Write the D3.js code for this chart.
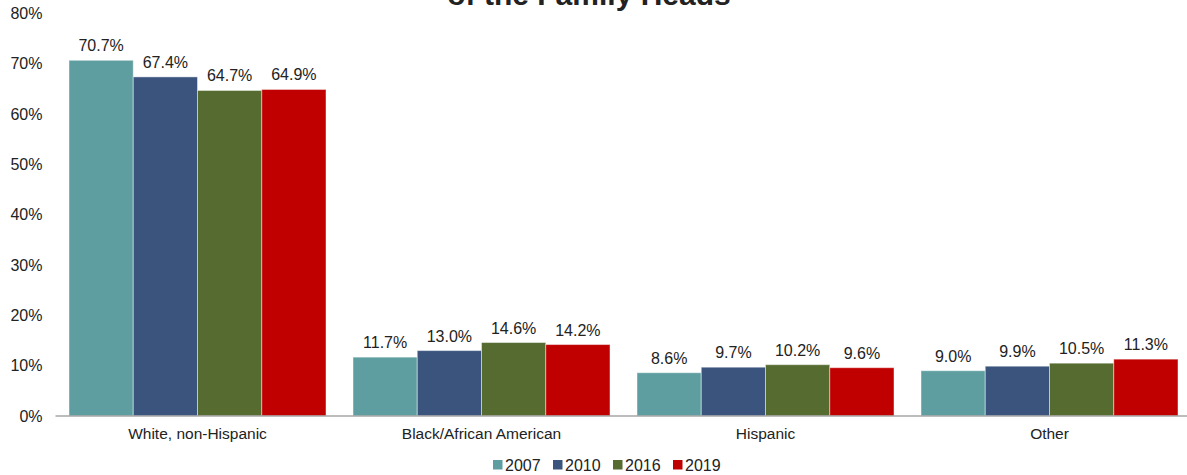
<!DOCTYPE html>
<html>
<head>
<meta charset="utf-8">
<script src="https://cdn.jsdelivr.net/npm/d3@7"></script>
<style>
  html, body { margin: 0; padding: 0; background: #fff; }
  svg { display: block; font-family: Arial, "Liberation Sans", sans-serif; }
</style>
</head>
<body>
<svg id="chart" width="1187" height="475"></svg>
<script>
// Share of family heads by race or ethnicity, survey years 2007–2019
const categories = ["White, non-Hispanic", "Black/African American", "Hispanic", "Other"];
const years = ["2007", "2010", "2016", "2019"];
const values2007 = [70.7, 11.7, 8.6, 9.0];
const values2010 = [67.4, 13.0, 9.7, 9.9];
const values2016 = [64.7, 14.6, 10.2, 10.5];
const values2019 = [64.9, 14.2, 9.6, 11.3];
const yTicks = [0, 10, 20, 30, 40, 50, 60, 70, 80];
const colors = ["#5f9ea0", "#3a547e", "#556b2f", "#c00000"];

const seriesValues = [values2007, values2010, values2016, values2019];
const rows = categories.map((c, i) => ({
  category: c,
  bars: years.map((yr, j) => ({ year: yr, value: seriesValues[j][i] }))
}));

const svg = d3.select("#chart");
const plotLeft = 55.5, plotRight = 1191.5, plotTop = 13.5, plotBottom = 416;
const FONT = "Arial, 'Liberation Sans', sans-serif";

const x0 = d3.scaleBand().domain(categories).range([plotLeft, plotRight])
  .paddingInner(27 / 284).paddingOuter(27 / 568);
const x1 = d3.scaleBand().domain(years).range([0, x0.bandwidth()]);
const y = d3.scaleLinear().domain([0, 80]).range([plotBottom, plotTop]);
const color = d3.scaleOrdinal().domain(years).range(colors);

// Title (second line sits at the top edge)
svg.append("text")
  .attr("x", 589).attr("y", 5)
  .attr("text-anchor", "middle")
  .attr("font-size", 30).attr("font-weight", "bold").attr("fill", "#222")
  .text("of the Family Heads");

// Y axis labels
const yAxis = d3.axisLeft(y).tickValues(yTicks).tickFormat(d => d + "%").tickSize(0).tickPadding(13);
const gy = svg.append("g").attr("transform", `translate(${plotLeft},0)`).call(yAxis);
gy.select(".domain").remove();
gy.selectAll("text").attr("font-size", 16).attr("fill", "#222").attr("font-family", FONT);

// Bars
const groups = svg.append("g").selectAll("g").data(rows).join("g")
  .attr("transform", d => `translate(${x0(d.category)},0)`);

groups.selectAll("rect").data(d => d.bars).join("rect")
  .attr("x", d => x1(d.year))
  .attr("y", d => y(d.value))
  .attr("width", x1.bandwidth())
  .attr("height", d => y(0) - y(d.value))
  .attr("fill", d => color(d.year))
  .attr("stroke", "rgba(255,255,255,0.45)")
  .attr("stroke-width", 1);

groups.selectAll("text.val").data(d => d.bars).join("text")
  .attr("class", "val")
  .attr("x", d => x1(d.year) + x1.bandwidth() / 2)
  .attr("y", d => y(d.value) - 9)
  .attr("text-anchor", "middle")
  .attr("font-size", 16).attr("fill", "#222")
  .text(d => d.value.toFixed(1) + "%");

// X axis
const xAxis = d3.axisBottom(x0).tickSize(0).tickPadding(12);
const gx = svg.append("g").attr("transform", `translate(0,${plotBottom})`).call(xAxis);
gx.select(".domain").attr("stroke", "#a6a6a6").attr("stroke-width", 1.5)
  .attr("d", `M${plotLeft},0H1187`);
gx.selectAll("text").attr("font-size", 15.5).attr("fill", "#222").attr("font-family", FONT);

// Legend
const legend = svg.append("g").attr("transform", "translate(493,465)");
const items = legend.selectAll("g").data(years).join("g")
  .attr("transform", (d, i) => `translate(${i * 60},0)`);
items.append("rect").attr("x", 0).attr("y", -5).attr("width", 9.5).attr("height", 9.5)
  .attr("fill", d => color(d));
items.append("text").attr("x", 12).attr("y", 6).attr("font-size", 16).attr("fill", "#222")
  .text(d => d);
</script>
</body>
</html>
